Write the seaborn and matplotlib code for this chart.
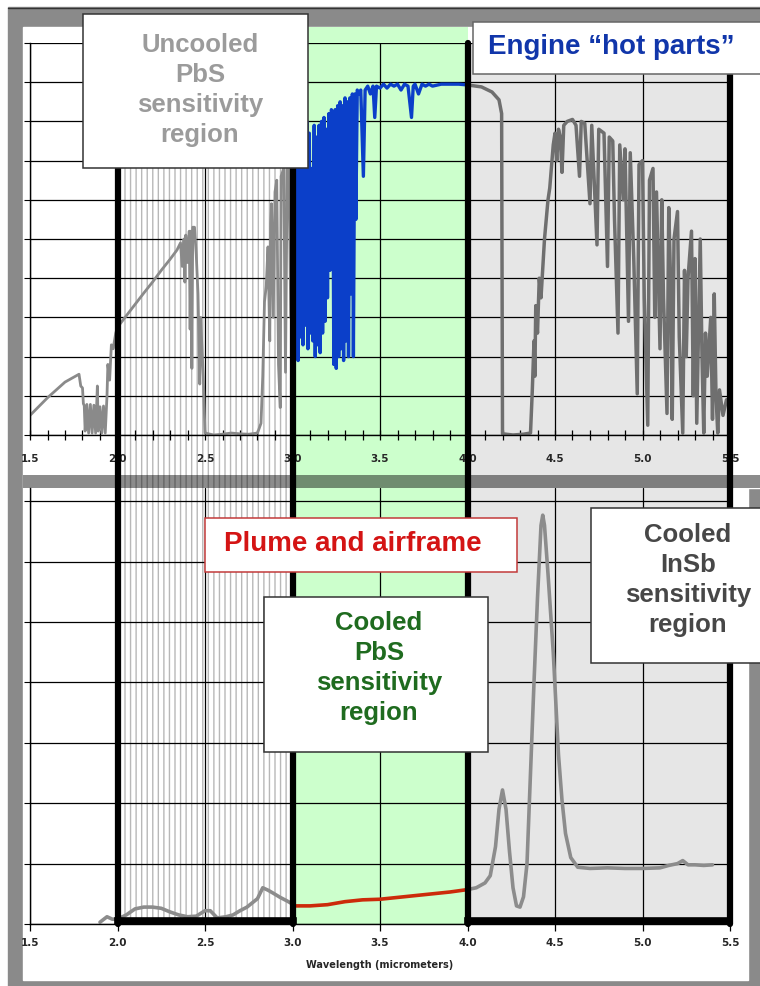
import matplotlib
matplotlib.use("Agg")
import matplotlib.pyplot as plt
from matplotlib.patches import Rectangle
from matplotlib.ticker import FixedLocator, MultipleLocator, NullFormatter
import pandas as pd
import seaborn as sns

W, H = 760, 986

# --- atmospheric transmission (upper panel) ---
top_gray_x = [1.50, 1.60, 1.70, 1.78, 1.79, 1.80, 1.805, 1.81, 1.815, 1.825,
              1.835, 1.845, 1.855, 1.865, 1.875, 1.885, 1.89, 1.90, 1.91, 1.92,
              1.93, 1.94, 1.945, 1.955, 1.965, 1.975, 1.99, 2.00, 2.05, 2.10,
              2.15, 2.20, 2.25, 2.30, 2.34, 2.36, 2.37, 2.38, 2.385, 2.39,
              2.40, 2.41, 2.415, 2.42, 2.425, 2.43, 2.44, 2.45, 2.46, 2.47,
              2.475, 2.49, 2.50, 2.55, 2.60, 2.65, 2.70, 2.75, 2.80, 2.82,
              2.83, 2.84, 2.85, 2.86, 2.87, 2.875, 2.88, 2.89, 2.90, 2.91,
              2.92, 2.93, 2.935, 2.95, 2.96, 2.97, 2.98, 2.99, 3.00]
top_gray_y = [0.50, 0.95, 1.35, 1.55, 1.25, 1.20, 0.80, 0.75, 0.10, 0.78,
              0.05, 0.78, 0.05, 0.76, 0.05, 1.25, 0.10, 0.72, 0.05, 0.74,
              0.05, 1.00, 1.80, 1.40, 2.30, 2.20, 2.60, 2.75, 3.04, 3.33,
              3.62, 3.90, 4.20, 4.48, 4.72, 4.90, 4.30, 5.00, 3.90, 5.10,
              4.40, 5.20, 2.70, 5.20, 1.70, 5.30, 5.30, 4.60, 3.60, 1.30,
              3.00, 1.50, 0.05, 0.00, 0.02, 0.05, 0.03, 0.02, 0.05, 0.30,
              1.50, 3.40, 3.80, 4.80, 2.40, 5.40, 5.90, 3.00, 6.20, 6.50,
              1.80, 0.70, 6.60, 6.80, 1.60, 6.90, 6.80, 3.00, 6.60]

hot_x = [3.000, 3.005, 3.012, 3.018, 3.025, 3.032, 3.040, 3.046, 3.054, 3.060,
         3.068, 3.074, 3.082, 3.088, 3.096, 3.102, 3.110, 3.116, 3.124, 3.130,
         3.138, 3.144, 3.152, 3.158, 3.166, 3.172, 3.180, 3.186, 3.194, 3.200,
         3.208, 3.214, 3.222, 3.230, 3.236, 3.244, 3.250, 3.258, 3.264, 3.272,
         3.278, 3.286, 3.292, 3.300, 3.306, 3.314, 3.320, 3.328, 3.334, 3.342,
         3.348, 3.356, 3.362, 3.370, 3.380, 3.390, 3.405, 3.415, 3.430, 3.445,
         3.460, 3.470, 3.480, 3.500, 3.520, 3.540, 3.560, 3.580, 3.600, 3.620,
         3.640, 3.660, 3.680, 3.690, 3.700, 3.720, 3.740, 3.760, 3.780, 3.800,
         3.850, 3.900, 3.950, 4.000]
hot_y = [6.6, 2.0, 6.9, 2.2, 7.8, 1.9, 8.1, 2.5, 8.2, 2.3,
         7.9, 2.8, 8.0, 2.2, 7.7, 2.6, 6.8, 2.4, 7.9, 2.0,
         7.6, 2.3, 7.9, 2.1, 8.0, 2.6, 8.1, 2.9, 7.8, 3.5,
         8.2, 4.2, 8.3, 8.2, 1.8, 8.3, 1.7, 8.4, 2.0, 8.5,
         2.2, 8.4, 1.9, 8.6, 2.4, 8.5, 2.0, 8.6, 3.6, 8.7,
         2.0, 8.7, 5.5, 8.8, 8.7, 8.8, 6.6, 8.8, 8.9, 8.7,
         8.9, 8.1, 8.9, 8.85, 8.95, 8.85, 8.95, 8.9, 8.95, 8.8,
         8.95, 8.9, 8.1, 8.9, 8.95, 8.7, 8.95, 8.9, 8.95, 8.9,
         8.95, 8.95, 8.95, 8.93]

mwir_x = [4.00, 4.08, 4.14, 4.18, 4.195, 4.200, 4.26, 4.32, 4.36, 4.37,
          4.38, 4.385, 4.39, 4.40, 4.41, 4.42, 4.44, 4.46, 4.47, 4.49,
          4.50, 4.51, 4.52, 4.53, 4.54, 4.55, 4.57, 4.60, 4.62, 4.64,
          4.65, 4.67, 4.70, 4.71, 4.74, 4.75, 4.78, 4.80, 4.81, 4.83,
          4.84, 4.86, 4.87, 4.89, 4.90, 4.92, 4.93, 4.95, 4.97, 4.98,
          5.00, 5.01, 5.03, 5.04, 5.06, 5.07, 5.08, 5.10, 5.11, 5.12,
          5.14, 5.15, 5.16, 5.17, 5.18, 5.20, 5.21, 5.23, 5.24, 5.25,
          5.26, 5.28, 5.29, 5.30, 5.31, 5.33, 5.34, 5.35, 5.36, 5.37,
          5.39, 5.40, 5.41, 5.42, 5.43, 5.44, 5.46, 5.48, 5.50]
mwir_y = [8.93, 8.88, 8.75, 8.55, 8.20, 0.03, 0.00, 0.02, 0.05, 1.10,
          2.40, 1.50, 3.30, 2.60, 4.00, 3.50, 5.00, 6.00, 6.30, 7.40,
          7.70, 7.00, 7.80, 7.60, 6.70, 7.90, 8.00, 8.05, 7.90, 6.60,
          8.00, 7.95, 5.90, 7.90, 4.85, 7.80, 7.70, 4.30, 7.60, 7.50,
          5.50, 2.60, 7.40, 6.00, 7.30, 2.90, 7.20, 4.50, 1.05, 6.90,
          7.00, 3.50, 0.25, 6.50, 6.80, 3.00, 6.20, 2.20, 6.00, 3.50,
          0.55, 5.80, 4.00, 0.40, 5.00, 5.70, 2.50, 0.05, 4.20, 2.00,
          4.00, 5.20, 1.00, 4.50, 0.30, 5.00, 2.00, 0.05, 2.60, 1.50,
          3.00, 0.40, 3.60, 1.00, 0.05, 1.15, 0.50, 0.90, 0.80]

# --- plume and airframe emission (lower panel) ---
plume_a_x = [1.90, 1.94, 1.97, 2.00, 2.05, 2.10, 2.15, 2.20, 2.25, 2.30,
             2.35, 2.40, 2.45, 2.50, 2.53, 2.57, 2.62, 2.66, 2.70, 2.74,
             2.77, 2.80, 2.83, 2.86, 2.89, 2.93, 2.97, 3.00]
plume_a_y = [0.03, 0.12, 0.08, 0.08, 0.15, 0.25, 0.28, 0.28, 0.26, 0.20,
             0.15, 0.12, 0.13, 0.22, 0.22, 0.10, 0.12, 0.15, 0.22, 0.28,
             0.35, 0.42, 0.60, 0.56, 0.51, 0.44, 0.38, 0.33]
airframe_x = [3.0, 3.1, 3.2, 3.3, 3.4, 3.5, 3.6, 3.7, 3.8, 3.9, 4.0]
airframe_y = [0.30, 0.30, 0.32, 0.37, 0.40, 0.41, 0.44, 0.47, 0.50, 0.53, 0.57]
plume_b_x = [4.00, 4.05, 4.10, 4.13, 4.16, 4.18, 4.20, 4.22, 4.24, 4.26,
             4.28, 4.30, 4.32, 4.34, 4.36, 4.38, 4.40, 4.42, 4.43, 4.44,
             4.46, 4.49, 4.52, 4.54, 4.56, 4.59, 4.63, 4.70, 4.80, 4.90,
             5.00, 5.10, 5.15, 5.20, 5.23, 5.26, 5.30, 5.35, 5.40]
plume_b_y = [0.57, 0.60, 0.68, 0.80, 1.28, 1.90, 2.22, 1.90, 1.20, 0.60,
             0.30, 0.28, 0.45, 1.00, 2.50, 4.00, 5.40, 6.60, 6.77, 6.60,
             5.80, 4.50, 2.80, 2.05, 1.50, 1.10, 0.94, 0.92, 0.93, 0.92,
             0.92, 0.93, 0.97, 1.00, 1.05, 0.98, 0.98, 0.97, 0.98]

tick_vals = [1.5, 2.0, 2.5, 3.0, 3.5, 4.0, 4.5, 5.0, 5.5]
tick_labels = ["1.5", "2.0", "2.5", "3.0", "3.5", "4.0", "4.5", "5.0", "5.5"]

uncooled_pbs = (2.0, 3.0)
cooled_pbs = (3.0, 4.0)
cooled_insb = (4.0, 5.5)

sns.set_style("white")
plt.rcParams['font.family'] = ['Liberation Sans', 'DejaVu Sans']
plt.rcParams['hatch.linewidth'] = 1.0


def px_rect(x0, y0, x1, y1):
    return [x0 / W, 1 - y1 / H, (x1 - x0) / W, (y1 - y0) / H]


fig = plt.figure(figsize=(W / 100, H / 100), dpi=100)

# background frame, pixel coordinates
bg = fig.add_axes([0, 0, 1, 1], zorder=-5)
bg.set_xlim(0, W)
bg.set_ylim(H, 0)
bg.axis('off')
bg.add_patch(Rectangle((8, 7), W - 8, H - 7, color='#8a8a8a'))
bg.plot([8, W], [7.5, 7.5], color='#333333', lw=1)
bg.add_patch(Rectangle((23, 27), W - 23, 461, color='white'))
bg.add_patch(Rectangle((23, 488), 725, 492, color='white'))

ax_top = fig.add_axes(px_rect(30, 43, 730, 435))
ax_bot = fig.add_axes(px_rect(30, 488, 730, 924))

low_ext = -(488 - 435) / 392
high_ext = 1 + (43 - 27) / 392

for ax, lo, hi, ymax in [(ax_top, low_ext, 1.0, 10), (ax_bot, 0.0, 1.0, 7.22)]:
    ax.set_facecolor('none')
    ax.set_xlim(1.5, 5.5)
    ax.set_ylim(0, ymax)
    ax.set_axisbelow(True)
    ax.axvspan(*uncooled_pbs, ymin=lo, ymax=hi, facecolor='white',
               edgecolor='#b8b8b8', hatch='|||', lw=0, zorder=0.2, clip_on=False)
    ax.axvspan(*cooled_pbs, ymin=lo, ymax=high_ext if ax is ax_top else hi,
               facecolor='#ccffcc', lw=0, zorder=0.2, clip_on=False)
    ax.axvspan(*cooled_insb, ymin=lo, ymax=hi, facecolor='#e6e6e6',
               lw=0, zorder=0.2, clip_on=False)
    for xv in [uncooled_pbs[0], cooled_pbs[0], cooled_pbs[1], cooled_insb[1]]:
        ax.axvline(xv, ymin=lo, ymax=hi, color='black', lw=4.5,
                   zorder=3, clip_on=False)
    ax.xaxis.set_major_locator(FixedLocator(tick_vals))
    ax.set_xticklabels(tick_labels, fontsize=7.5, fontweight='bold',
                       family='DejaVu Sans')
    ax.yaxis.set_major_locator(MultipleLocator(1))
    ax.yaxis.set_major_formatter(NullFormatter())
    ax.grid(True, which='major', color='black', lw=0.9)
    for side in ['top', 'right']:
        ax.spines[side].set_visible(False)
    for side in ['left', 'bottom']:
        ax.spines[side].set_color('black')
        ax.spines[side].set_linewidth(1)
    ax.tick_params(axis='y', left=True, direction='out', length=4,
                   width=0.8, color='black')

ax_top.xaxis.set_minor_locator(MultipleLocator(0.1))
ax_top.tick_params(axis='x', which='both', bottom=True, direction='inout',
                   length=7, width=0.9, color='black', pad=10)
ax_bot.tick_params(axis='x', bottom=True, direction='out', length=5,
                   width=0.9, color='black', pad=5)

# black bottom edges of the framed regions in the lower panel
for reg in [uncooled_pbs, cooled_insb]:
    ax_bot.plot(list(reg), [0.05, 0.05], color='black', lw=5.5,
                solid_capstyle='projecting', zorder=3)

# spectra
df_gray = pd.DataFrame({'x': top_gray_x, 'y': top_gray_y})
df_hot = pd.DataFrame({'x': hot_x, 'y': hot_y})
df_mwir = pd.DataFrame({'x': mwir_x, 'y': mwir_y})
sns.lineplot(data=df_gray, x='x', y='y', ax=ax_top, color='#8a8a8a',
             lw=2.0, estimator=None, sort=False, zorder=2)
sns.lineplot(data=df_hot, x='x', y='y', ax=ax_top, color='#0b3fc9',
             lw=2.4, estimator=None, sort=False, zorder=2)
sns.lineplot(data=df_mwir, x='x', y='y', ax=ax_top, color='#6f6f6f',
             lw=2.5, estimator=None, sort=False, zorder=2)

df_pa = pd.DataFrame({'x': plume_a_x, 'y': plume_a_y})
df_af = pd.DataFrame({'x': airframe_x, 'y': airframe_y})
df_pb = pd.DataFrame({'x': plume_b_x, 'y': plume_b_y})
sns.lineplot(data=df_pa, x='x', y='y', ax=ax_bot, color='#8c8c8c',
             lw=2.6, estimator=None, sort=False, zorder=2)
sns.lineplot(data=df_af, x='x', y='y', ax=ax_bot, color='#cc2a0a',
             lw=2.6, estimator=None, sort=False, zorder=2)
sns.lineplot(data=df_pb, x='x', y='y', ax=ax_bot, color='#8c8c8c',
             lw=2.6, estimator=None, sort=False, zorder=2)

for ax in [ax_top, ax_bot]:
    ax.set_ylabel('')
    ax.set_xlabel('')
ax_bot.set_xlabel('Wavelength (micrometers)', fontsize=7, fontweight='bold',
                  family='DejaVu Sans', labelpad=9)

# overlay: dividing band and callout boxes
ov = fig.add_axes([0, 0, 1, 1], zorder=10)
ov.set_xlim(0, W)
ov.set_ylim(H, 0)
ov.axis('off')
ov.set_facecolor('none')
ov.add_patch(Rectangle((23, 475), W - 23, 13, color='black', alpha=0.45, lw=0))


def callout(x0, y0, x1, y1, text, color, edge, tx, ty, size, ha='center'):
    ov.add_patch(Rectangle((x0, y0), x1 - x0, y1 - y0, facecolor='white',
                           edgecolor=edge, lw=1.1))
    ov.text(tx, ty, text, color=color, fontsize=size, fontweight='bold',
            ha=ha, va='center', linespacing=1.33)


callout(83, 14, 308, 168, "Uncooled\nPbS\nsensitivity\nregion",
        '#9b9b9b', '#333333', 200, 90, 18.5)
callout(473, 22, 775, 74, "Engine \u201chot parts\u201d",
        '#1136aa', '#666666', 488, 47, 20, ha='left')
callout(205, 518, 517, 572, "Plume and airframe",
        '#d41414', '#c23a3a', 353, 544, 20)
callout(264, 597, 488, 752, "Cooled\nPbS\nsensitivity\nregion",
        '#1f6b1f', '#333333', 379, 668, 18.5)
callout(591, 508, 775, 663, "Cooled\nInSb\nsensitivity\nregion",
        '#474747', '#333333', 688, 580, 18.5)

fig.savefig('out.png', dpi=100)
